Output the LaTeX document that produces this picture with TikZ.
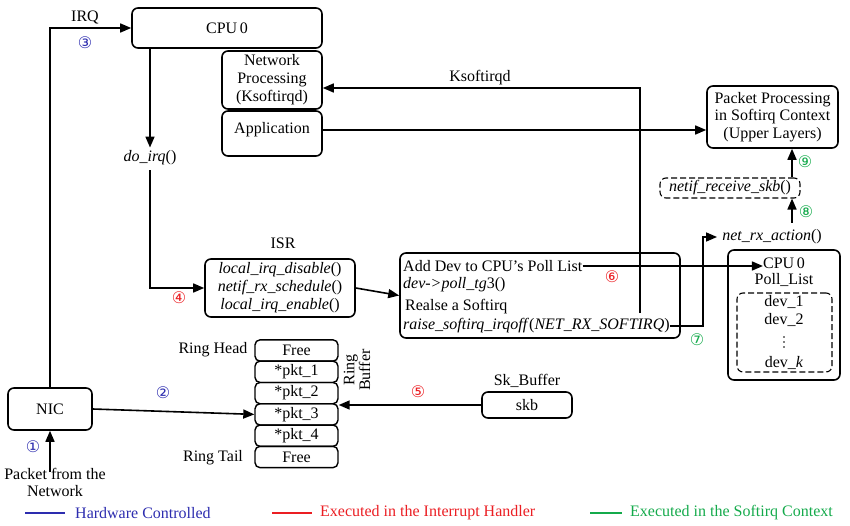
\documentclass[tikz,border=0pt]{standalone}
\usepackage{fontspec}
\setmainfont{Liberation Serif}
\newfontfamily\dv{DejaVu Sans}
\usetikzlibrary{arrows.meta,calc}
\definecolor{hwblue}{RGB}{45,45,175}
\definecolor{intred}{RGB}{235,30,35}
\definecolor{sgreen}{RGB}{20,170,75}
\begin{document}
\begin{tikzpicture}[x=1pt,y=-1pt,
  every node/.style={font=\fontsize{16}{18}\selectfont, inner sep=0pt},
  box/.style={draw, rounded corners=6pt, line width=1.6pt, align=center},
  dbox/.style={draw, dashed, dash pattern=on 6pt off 3pt, rounded corners=6pt, line width=1.1pt},
  cell/.style={draw, rounded corners=5pt, line width=1.4pt, minimum width=83pt, minimum height=21.3pt},
  arr/.style={-{Triangle[length=11pt,width=9pt]}, line width=1.6pt},
  ln/.style={line width=1.6pt},
  num/.style={font=\dv\fontsize{16}{16}\selectfont},
  leg/.style={font=\fontsize{16}{18}\selectfont, anchor=west}]
\useasboundingbox (0,0) rectangle (850,526);
% top boxes
\node[box, minimum width=190pt, minimum height=40pt] (cpu) at (227,28) {CPU\,0};
\node[box, minimum width=100pt, minimum height=58pt] (net) at (272,80) {Network\\Processing\\(Ksoftirqd)};
\node[box, minimum width=100pt, minimum height=45pt] (app) at (272,133.5) {};
\node (appt) at (272,130) {Application};
\node[box, minimum width=131pt, minimum height=62pt, font=\fontsize{16}{17.5}\selectfont] (pp) at (772.5,117) {Packet Processing\\in Softirq Context\\(Upper Layers)};
\node[dbox, minimum width=140pt, minimum height=20pt] (nrs) at (730,188) {\textit{netif\_receive\_skb}()\hspace{6pt}};
\node (nra) at (772,237) {\textit{net\_rx\_action}()};
% poll list
\node[box, minimum width=112pt, minimum height=130pt] (pl) at (784,315) {};
\node (plcpu) at (784,263) {CPU\,0};
\node (pln) at (784,280) {Poll\_List};
\node[dbox, minimum width=95pt, minimum height=79pt] (pld) at (784.5,332.5) {};
\node (d1) at (784,302) {dev\_1};
\node (d2) at (784,320) {dev\_2};
\foreach \yy in {337,342,347} \fill (784,\yy) circle (0.9pt);
\node (dk) at (784,363) {dev\_\textit{k}};
% IRQ path
\node (irq) at (85,18) {IRQ};
\node (doirq) at (150,158) {\textit{do\_irq}()};
\node (isrl) at (283,243) {ISR};
\node[box, minimum width=150pt, minimum height=58pt] (isr) at (280,288) {\textit{local\_irq\_disable}()\\\textit{netif\_rx\_schedule}()\\\textit{local\_irq\_enable}()};
% add dev box
\node[box, minimum width=280pt, minimum height=85pt] (add) at (540,295.5) {};
\node[anchor=west] (a1) at (403,266) {Add Dev to CPU’s Poll List};
\node[anchor=west] (a2) at (403,285) {\textit{dev->poll\_tg}3()};
\node[anchor=west] (a3) at (405,307) {Realse a Softirq};
\node[anchor=west] (a4) at (403,326) {\textit{raise\_softirq\_irqoff}(\textit{NET\_RX\_SOFTIRQ})};
% NIC and ring
\node[box, minimum width=84pt, minimum height=42pt] (nic) at (50,409) {NIC};
\node[cell] (r0) at (296.5,350.5) {Free};
\node[cell] (r1) at (296.5,371.8) {*pkt\_1};
\node[cell] (r2) at (296.5,393.1) {*pkt\_2};
\node[cell] (r3) at (296.5,414.4) {*pkt\_3};
\node[cell] (r4) at (296.5,435.7) {*pkt\_4};
\node[cell] (r5) at (296.5,457) {Free};
\node (rh) at (213,350) {Ring Head};
\node (rt) at (213,458) {Ring Tail};
\node[rotate=90, align=center, font=\fontsize{16}{13}\selectfont] (rb) at (357,370) {Ring\\Buffer};
\node[box, minimum width=90pt, minimum height=26pt] (skb) at (527,405) {skb};
\node (skbl) at (527,381) {Sk\_Buffer};
\node[align=center, font=\fontsize{16}{17}\selectfont] (pkt) at (55,482) {Packet from the\\Network};
\coordinate (pktin) at (50,472);
% numbers
\node[num, text=hwblue] at (33,447) {①};
\node[num, text=hwblue] at (163,393) {②};
\node[num, text=hwblue] at (85,43) {③};
\node[num, text=intred] at (179,298) {④};
\node[num, text=intred] at (418,392) {⑤};
\node[num, text=intred] at (612,277) {⑥};
\node[num, text=sgreen] at (697,340) {⑦};
\node[num, text=sgreen] at (806,212) {⑧};
\node[num, text=sgreen] at (805,162) {⑨};
% connectors
\draw[arr] (pktin) -- (nic.south);
\draw[arr] (nic.north) |- (cpu.west);
\draw[arr] (doirq.north |- cpu.south) -- ([yshift=3pt]doirq.north);
\draw[arr] ([yshift=-5pt]doirq.south) |- (isr.west);
\draw[arr] (isr.east) -- (add.west);
\draw[arr] (nic.east) -- (r3.west);
\draw[arr] (skb.west) -- (skb.west -| r3.east);
\draw[arr] (a1.east) -- (a1.east -| plcpu.west);
\coordinate (ks) at (640,313);
\draw[arr] (ks) |- ([yshift=-8pt]net.east);
\node (ksl) at (480,78) {Ksoftirqd};
\draw[arr] (appt.east -| app.east) -- (appt.east -| pp.west);
\coordinate (c8) at (792,223);
\draw[arr] (c8) -- (c8 |- nrs.south);
\draw[arr] (c8 |- nrs.north) -- (c8 |- pp.south);
\coordinate (c7) at (703,237);
\draw[arr] (a4.east) -- (a4.east -| c7) |- ([xshift=-5pt]nra.west);
% legend
\draw[hwblue, ln] (25,513) -- (65,513);
\node[leg, text=hwblue] at (75,513) {Hardware Controlled};
\draw[intred, ln] (272,513) -- (312,513);
\node[leg, text=intred] at (320,513) {Executed in the Interrupt Handler};
\draw[sgreen, ln] (590,513) -- (622,513);
\node[leg, text=sgreen] at (630,513) {Executed in the Softirq Context};
\end{tikzpicture}
\end{document}
